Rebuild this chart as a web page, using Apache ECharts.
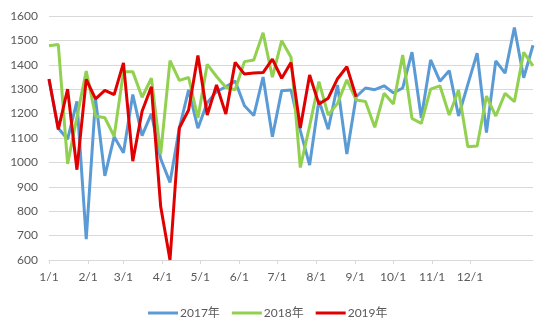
<!DOCTYPE html>
<html>
<head>
<meta charset="utf-8">
<script src="https://cdn.jsdelivr.net/npm/echarts@6/dist/echarts.min.js"></script>
<style>
  html, body { margin: 0; padding: 0; background: #fff; }
  #chart { width: 550px; height: 330px; }
</style>
</head>
<body>
<div id="chart"></div>
<script>
// Weekly values, one entry per week of the year
const values2017 = [1340, 1140, 1095, 1250, 685, 1260, 945, 1105, 1040, 1278, 1110, 1200, 1015, 918, 1140,
  1297, 1140, 1245, 1290, 1310, 1333, 1232, 1192, 1350, 1105, 1294, 1297, 1130, 989, 1255, 1136,
  1317, 1034, 1269, 1305, 1298, 1314, 1285, 1305, 1452, 1182, 1420, 1333, 1376, 1190, 1320, 1448,
  1122, 1416, 1366, 1553, 1347, 1480];
const values2018 = [1478, 1483, 994, 1185, 1374, 1190, 1183, 1107, 1372, 1372, 1267, 1345, 1034, 1417, 1336,
  1348, 1182, 1402, 1352, 1308, 1298, 1413, 1420, 1531, 1349, 1499, 1431, 979, 1149, 1331, 1194,
  1242, 1338, 1256, 1250, 1144, 1283, 1239, 1440, 1180, 1160, 1300, 1314, 1194, 1297, 1064, 1067,
  1272, 1190, 1283, 1249, 1451, 1396];
const values2019 = [1342, 1135, 1300, 970, 1340, 1260, 1295, 1278, 1408, 1005, 1210, 1310, 819, 600, 1141,
  1215, 1438, 1194, 1317, 1198, 1410, 1362, 1366, 1368, 1423, 1345, 1409, 1141, 1358, 1239, 1263,
  1343, 1392, 1269];

const seriesNames = ['2017年', '2018年', '2019年'];
const monthLabels = ['1/1', '2/1', '3/1', '4/1', '5/1', '6/1', '7/1', '8/1', '9/1', '10/1', '11/1', '12/1'];
const monthStartDays = [0, 31, 59, 90, 120, 151, 181, 212, 243, 273, 304, 334];

// The week axis runs from week 0 to week 52; month ticks sit at their day position
const lastWeek = values2017.length - 1;
const daysSpanned = 384;
const monthTickPos = monthStartDays.map(d => d * lastWeek / daysSpanned);

const toPairs = arr => arr.map((v, i) => [i, v]);

const font = "Lato, 'Noto Sans CJK SC', sans-serif";
const textColor = '#595959';
const gridColor = '#d9d9d9';

const chart = echarts.init(document.getElementById('chart'));
chart.setOption({
  animation: false,
  backgroundColor: '#ffffff',
  textStyle: { fontFamily: font },
  grid: { left: 49, right: 17, top: 16, bottom: 70 },
  xAxis: {
    type: 'value',
    min: 0,
    max: lastWeek,
    axisLine: { show: true, lineStyle: { color: gridColor, width: 1 } },
    axisTick: {
      show: true, length: 4, lineStyle: { color: gridColor },
      customValues: monthTickPos
    },
    splitLine: { show: false },
    axisLabel: {
      customValues: monthTickPos,
      color: textColor, fontSize: 12, fontFamily: font, margin: 11,
      formatter: function (val) {
        let best = 0;
        monthTickPos.forEach((p, i) => {
          if (Math.abs(p - val) < Math.abs(monthTickPos[best] - val)) best = i;
        });
        return monthLabels[best];
      }
    }
  },
  yAxis: {
    type: 'value',
    min: 600,
    max: 1600,
    interval: 100,
    axisLine: { show: false },
    axisTick: { show: false },
    splitLine: { lineStyle: { color: gridColor, width: 1 } },
    axisLabel: {
      color: textColor, fontSize: 12, fontFamily: font, margin: 11,
      formatter: v => String(v)
    }
  },
  legend: {
    left: 143,
    top: 302,
    itemWidth: 30,
    itemHeight: 3,
    itemGap: 12,
    icon: 'rect',
    textStyle: { color: textColor, fontSize: 12, fontFamily: font, padding: [0, 0, 0, -3] },
    data: seriesNames
  },
  series: [
    {
      name: seriesNames[0], type: 'line', data: toPairs(values2017),
      symbol: 'none', lineStyle: { width: 3, color: '#5B9BD5' }, itemStyle: { color: '#5B9BD5' }
    },
    {
      name: seriesNames[1], type: 'line', data: toPairs(values2018),
      symbol: 'none', lineStyle: { width: 3, color: '#92D050' }, itemStyle: { color: '#92D050' }
    },
    {
      name: seriesNames[2], type: 'line', data: toPairs(values2019),
      symbol: 'none', lineStyle: { width: 3, color: '#E00000' }, itemStyle: { color: '#E00000' }
    }
  ]
});
</script>
</body>
</html>
